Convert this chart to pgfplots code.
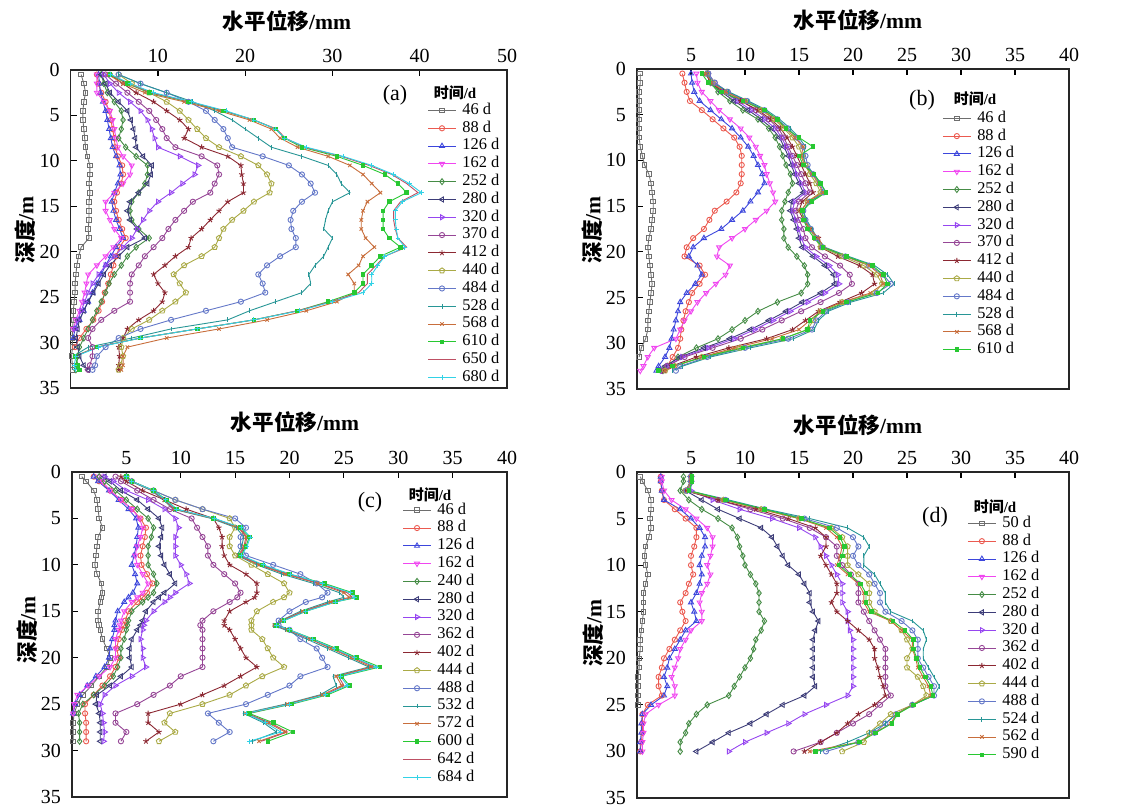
\documentclass[border=0pt]{standalone}
\usepackage{fontspec}
\setmainfont{Liberation Serif}
\newfontfamily\cjk{Noto Sans CJK SC}
\usepackage{pgfplots}
\usepackage{pgfplotstable}
\pgfplotsset{compat=1.18}

\definecolor{c1}{RGB}{110,110,110}
\definecolor{c2}{RGB}{235,90,80}
\definecolor{c3}{RGB}{60,70,220}
\definecolor{c4}{RGB}{240,70,240}
\definecolor{c5}{RGB}{70,140,70}
\definecolor{c6}{RGB}{60,60,120}
\definecolor{c7}{RGB}{150,70,240}
\definecolor{c8}{RGB}{150,70,150}
\definecolor{c9}{RGB}{140,40,50}
\definecolor{c10}{RGB}{170,170,70}
\definecolor{c11}{RGB}{100,120,200}
\definecolor{c12}{RGB}{40,150,150}
\definecolor{c13}{RGB}{200,110,60}
\definecolor{c14}{RGB}{40,200,50}
\definecolor{c15}{RGB}{190,80,100}
\definecolor{c16}{RGB}{50,210,230}

\pgfplotsset{
  s1/.style={color=c1, mark=square, mark size=1.15pt},
  s2/.style={color=c2, mark=o, mark size=1.3pt},
  s3/.style={color=c3, mark=triangle, mark size=1.45pt},
  s4/.style={color=c4, mark=triangle, mark size=1.45pt, mark options={rotate=180}},
  s5/.style={color=c5, mark=diamond, mark size=1.5pt},
  s6/.style={color=c6, mark=triangle, mark size=1.45pt, mark options={rotate=90}},
  s7/.style={color=c7, mark=triangle, mark size=1.45pt, mark options={rotate=-90}},
  s8/.style={color=c8, mark=o, mark size=1.3pt},
  s9/.style={color=c9, mark=star, mark size=1.4pt},
  s10/.style={color=c10, mark=pentagon, mark size=1.4pt},
  s11/.style={color=c11, mark=o, mark size=1.3pt},
  s12/.style={color=c12, mark=|, mark size=1.2pt},
  s13/.style={color=c13, mark=x, mark size=1.2pt},
  s14/.style={color=c14, mark=square*, mark size=0.9pt},
  s15/.style={color=c15, no marks},
  s16/.style={color=c16, mark=+, mark size=1.2pt},
  panel/.style={
    scale only axis, anchor=north west,
    y dir=reverse, xmin=0, ymin=0, ymax=35,
    enlargelimits=false, clip=false,
    tick align=inside, major tick length=3pt,
    xtick pos=right, xticklabel pos=right, ytick pos=left,
    ytick={0,5,...,35},
    every tick/.style={black, line width=0.6pt},
    axis line style={line width=0.7pt, black!85},
    tick label style={font=\fontsize{10}{12}\selectfont},
    yticklabel style={xshift=-2pt},
    /pgf/number format/assume math mode=true,
    legend cell align=left,
    legend image code/.code={\draw[mark repeat=2,mark phase=2,##1] plot coordinates {(0pt,0pt) (7pt,0pt) (14pt,0pt)};},
    legend style={draw=none, fill=none, anchor=north west, inner sep=0pt,
      row sep=0pt, column sep=2.5pt,
      font=\fontsize{8.2}{9}\selectfont,
      nodes={inner sep=0.5pt, text height=5.9pt, text depth=2pt}},
    every axis plot/.append style={line width=0.45pt},
  },
}

% panel (a): depth d, columns 46 88 126 162 252 280 320 370 412 440 484 528 568 610 650 680 d
\pgfplotstableread{
d v1 v2 v3 v4 v5 v6 v7 v8 v9 v10 v11 v12 v13 v14 v15 v16
0.5 1.2 3.0 3.2 3.0 3.5 3.5 3.8 4.0 4.5 5.5 5.5 5.5 4.3 4.5 4.6 4.6
1.5 1.5 3.2 3.3 3.0 3.8 4.0 4.5 5.2 6.0 7.0 8.0 8.0 6.0 6.5 6.6 6.8
2.5 1.7 3.5 3.4 3.0 4.2 4.5 5.5 6.5 7.5 9.0 11.0 11.0 8.5 9.0 9.2 9.5
3.5 1.5 4.0 3.7 3.8 5.0 5.5 6.8 7.8 9.5 11.0 13.5 14.0 13.0 13.5 13.6 13.8
4.5 1.4 4.4 4.0 4.5 5.8 6.5 8.0 9.0 11.0 12.5 15.5 16.5 17.0 17.5 17.6 17.8
5.5 1.4 4.6 4.2 4.8 6.0 6.9 8.8 9.8 12.5 13.5 16.5 18.5 20.5 21.0 21.0 21.0
6.5 1.5 4.8 4.4 5.0 5.8 7.2 9.3 10.5 13.5 14.5 17.5 20.0 23.0 23.5 23.6 23.5
7.5 1.6 5.0 4.6 5.2 5.5 7.4 9.6 11.0 13.0 15.5 18.0 21.5 24.0 24.5 24.6 24.5
8.5 1.7 5.1 4.8 5.4 6.3 7.5 10.0 12.0 15.0 17.0 18.5 23.0 26.0 26.5 26.8 27.0
9.5 1.9 5.4 5.2 6.0 7.5 8.3 12.5 15.0 18.0 19.5 22.0 26.5 29.5 30.5 31.0 31.2
10.5 2.2 5.9 5.6 7.0 8.8 9.3 14.6 16.8 19.5 21.5 25.0 29.5 32.0 33.5 34.2 34.5
11.5 2.2 6.0 5.7 6.8 8.8 9.2 14.2 17.0 19.6 22.5 26.5 30.5 33.5 36.0 36.8 37.0
12.5 2.1 5.8 5.4 6.0 8.5 8.8 12.8 16.5 19.8 23.0 27.5 31.0 34.5 37.5 38.5 38.8
13.5 2.2 5.3 5.0 5.0 7.8 7.8 11.5 16.0 19.8 22.8 28.0 32.0 35.5 38.5 39.8 40.2
14.5 2.1 5.0 4.7 4.0 7.0 6.8 10.0 14.0 18.0 21.0 26.5 30.0 34.0 36.5 37.8 38.0
15.5 2.1 5.2 4.9 4.0 6.8 6.5 9.0 13.0 17.0 19.8 25.5 29.5 33.5 35.8 37.0 37.2
16.5 2.1 5.5 5.2 4.5 7.0 6.8 8.3 12.0 16.0 18.5 25.2 29.2 33.3 35.8 37.0 37.2
17.5 2.0 5.9 5.6 5.0 7.8 7.6 7.6 11.2 15.0 17.5 25.3 29.0 33.3 35.8 37.2 37.3
18.5 2.1 6.3 6.0 5.8 9.0 8.5 7.0 10.5 13.8 17.0 25.8 30.0 33.8 36.5 37.5 37.5
19.5 1.2 5.6 5.2 4.9 7.5 6.5 6.0 9.5 13.5 16.5 25.8 29.5 34.8 37.8 38.5 38.3
20.5 0.9 5.2 4.6 4.0 6.5 5.5 5.0 8.5 12.0 15.0 24.0 29.0 33.5 35.5 36.0 36.0
21.5 0.7 4.9 4.0 3.0 5.8 4.5 4.0 7.8 10.8 13.0 22.5 28.0 33.0 34.5 35.0 35.2
22.5 0.6 4.6 3.5 2.0 5.0 3.8 3.2 7.0 9.5 11.8 21.5 27.3 31.8 33.5 34.0 34.5
23.5 0.5 4.3 3.0 1.8 4.4 3.2 2.5 6.8 10.0 12.5 22.0 27.5 32.5 33.5 34.0 34.5
24.5 0.5 3.9 2.5 1.6 4.0 2.6 2.0 6.8 10.8 13.2 22.3 26.5 32.5 32.5 33.0 33.5
25.5 0.4 3.6 2.0 1.3 3.5 2.0 1.6 6.8 10.5 12.0 19.5 23.5 30.5 29.5 29.8 30.0
26.5 0.3 3.2 1.5 1.0 3.0 1.5 1.2 5.0 9.5 10.5 15.5 20.5 27.0 26.0 26.0 26.2
27.5 0.3 2.6 1.0 0.6 2.5 1.0 0.8 3.5 7.8 9.0 11.5 18.0 22.5 21.0 21.0 21.0
28.5 0.2 1.8 0.5 0.3 2.0 0.8 0.5 2.5 6.5 7.0 8.0 11.5 17.0 14.5 14.5 14.5
29.5 0.2 1.0 0.3 nan 1.5 0.6 nan 2.0 6.0 6.0 5.5 7.0 11.0 8.0 8.0 8.0
30.5 0.2 0.5 nan nan 1.0 0.8 nan 2.5 5.5 5.8 4.0 2.0 6.5 3.0 3.0 3.2
31.5 0.1 nan nan nan 0.8 1.0 nan 2.5 5.6 6.0 3.0 0.3 6.0 0.5 0.5 0.6
32.5 0.2 nan nan nan 0.7 1.5 nan 2.2 5.5 5.7 2.8 nan 6.0 0.8 nan 0.4
33.0 0.2 nan nan nan 0.6 2.0 nan 2.0 5.5 5.5 2.5 nan 5.8 1.0 nan 0.5
}\tabA

% panel (b): 46 88 126 162 252 280 320 370 412 440 484 528 568 610 d
\pgfplotstableread{
d v1 v2 v3 v4 v5 v6 v7 v8 v9 v10 v11 v12 v13 v14
0.5 0.3 4.2 5.0 5.5 6.5 6.4 6.5 6.6 6.4 6.5 6.6 6.5 6.4 6.0
1.5 0.3 4.4 5.1 5.6 6.8 6.8 7.0 7.2 6.8 7.0 7.2 7.0 6.9 6.6
2.5 0.2 4.6 5.3 6.0 7.5 7.8 8.0 8.4 8.0 8.3 8.4 8.5 8.2 7.8
3.5 0.2 4.9 5.8 6.8 8.6 9.0 9.3 9.7 9.6 10.0 10.2 10.3 10.0 9.8
4.5 0.2 6.0 6.8 7.6 9.8 10.3 10.6 11.0 11.2 11.5 11.8 12.0 11.6 11.8
5.5 0.2 7.0 7.8 8.6 11.2 11.5 11.8 12.2 12.4 12.7 13.0 13.2 12.8 13.0
6.5 0.2 8.0 8.8 9.6 12.2 12.5 12.8 13.1 13.3 13.6 14.0 14.2 13.8 13.8
7.5 0.2 9.0 9.6 10.4 12.8 13.2 13.4 13.6 13.9 14.4 14.8 15.0 14.6 15.0
8.5 0.3 9.5 10.3 11.0 13.2 13.6 13.8 14.0 14.4 15.0 15.4 15.6 15.4 16.3
9.5 0.5 9.7 10.8 11.4 13.5 14.0 14.2 14.4 14.8 15.3 15.6 15.4 15.2 15.0
10.5 0.7 9.7 11.2 11.8 13.8 14.3 14.5 14.8 15.2 15.6 15.8 15.6 15.5 15.4
11.5 1.1 9.7 11.6 12.0 14.2 14.6 14.8 15.2 15.6 16.0 16.3 16.4 16.2 16.4
12.5 1.3 9.6 11.8 12.3 14.4 15.0 15.2 15.6 16.0 16.6 16.9 17.0 16.8 17.0
13.5 1.4 9.2 11.2 12.6 14.0 15.4 15.6 16.0 16.3 17.0 17.3 17.5 17.2 17.5
14.5 1.5 8.3 10.5 12.8 13.7 14.3 14.6 15.0 15.3 15.8 16.0 16.0 15.8 16.2
15.5 1.5 7.2 9.8 12.0 13.4 14.2 14.4 14.7 15.0 15.2 15.4 15.4 15.2 15.3
16.5 1.4 6.7 8.8 11.0 13.4 14.5 14.7 15.0 15.4 15.5 15.6 15.7 15.5 15.4
17.5 1.3 6.2 7.8 10.0 13.6 14.8 15.0 15.4 16.0 16.0 16.1 16.2 16.0 15.8
18.5 1.1 5.2 6.2 8.8 13.6 15.0 15.2 15.6 16.8 16.5 16.6 16.7 16.8 16.4
19.5 1.0 4.6 5.2 7.6 14.0 15.3 15.6 16.2 17.0 17.0 17.2 17.4 17.3 17.2
20.5 1.1 4.4 4.8 7.4 14.8 16.3 16.6 17.4 18.6 19.0 19.3 19.6 19.3 19.4
21.5 1.2 5.8 5.6 8.6 15.5 17.4 17.8 18.8 20.6 21.0 21.5 22.0 21.5 21.8
22.5 1.3 6.3 6.0 8.2 15.8 18.2 18.6 19.7 21.8 22.2 22.8 23.2 22.5 22.8
23.5 1.4 5.8 5.4 7.3 15.8 18.3 18.7 19.9 22.0 22.7 23.5 23.8 22.8 23.2
24.5 1.3 5.1 4.6 6.4 15.2 17.0 17.4 18.7 20.8 22.0 22.2 22.8 21.6 22.3
25.5 1.2 4.8 4.0 5.6 13.0 15.3 15.8 17.0 18.8 19.0 19.5 19.8 19.0 19.4
26.5 1.1 4.5 3.8 5.0 11.2 13.8 14.2 15.2 16.8 17.0 17.5 17.7 17.0 17.2
27.5 1.0 4.3 3.6 4.4 10.0 12.2 12.6 13.4 15.6 16.3 16.6 16.8 16.0 16.0
28.5 1.0 4.1 3.4 4.0 8.8 10.5 10.9 11.6 14.4 15.8 16.2 16.4 15.0 15.8
29.5 0.8 4.0 3.2 3.6 7.5 8.6 9.0 9.6 12.0 13.5 14.0 14.5 12.5 13.5
30.5 0.4 3.8 3.0 1.6 5.5 6.2 6.6 7.0 8.5 9.5 10.0 10.5 9.0 9.8
31.5 0.2 3.3 2.6 1.0 3.8 4.0 4.2 4.4 5.5 6.0 6.5 6.8 6.0 6.2
32.5 nan 2.8 2.0 0.6 2.8 2.6 2.8 2.8 3.2 3.5 4.0 4.2 3.5 3.3
33.0 nan nan 1.8 0.3 2.4 2.2 2.3 2.3 2.5 2.6 3.6 3.3 2.6 2.0
}\tabB

% panel (c): 46 88 126 162 240 280 320 362 402 444 488 532 572 600 642 684 d
\pgfplotstableread{
d v1 v2 v3 v4 v5 v6 v7 v8 v9 v10 v11 v12 v13 v14 v15 v16
0.5 0.9 2.0 2.0 2.5 2.5 3.0 3.0 4.0 4.5 5.0 5.0 5.0 5.0 5.0 5.0 5.0
1 1.3 2.5 2.4 2.8 3.0 3.5 3.8 4.5 5.0 5.5 5.5 5.4 5.5 5.5 5.5 5.5
2 2.0 3.5 3.4 3.5 4.0 4.5 5.0 6.0 6.5 7.5 7.5 7.3 7.4 7.5 7.4 7.5
3 2.3 4.5 4.3 4.5 5.0 6.0 7.0 7.5 8.5 9.5 9.5 8.4 8.5 8.7 8.5 8.6
4 2.4 5.5 5.2 5.5 6.0 7.0 8.5 9.0 10.5 12.0 12.0 9.3 9.4 9.6 9.5 9.6
5 2.5 6.3 5.9 6.2 7.0 8.0 9.5 11.0 13.0 14.5 15.0 12.8 13.0 13.0 13.0 13.1
6 2.8 6.8 6.1 6.5 7.5 8.3 9.8 11.5 13.5 15.0 16.0 15.1 15.3 15.5 15.4 15.6
7 2.4 6.7 6.0 6.3 7.3 8.2 9.5 12.0 13.8 14.5 15.5 15.8 16.0 16.3 16.1 16.4
8 2.3 6.5 5.9 6.0 7.0 8.0 9.5 12.5 13.8 14.5 15.5 15.6 15.8 16.0 15.9 16.1
9 2.2 6.3 5.7 5.8 7.0 8.2 9.5 12.5 14.0 15.0 16.0 15.2 15.3 15.5 15.4 15.6
10 2.1 6.4 5.5 6.0 7.0 8.5 10.0 13.0 14.5 16.5 18.5 17.0 17.2 17.5 17.3 17.6
11 2.3 6.9 5.8 6.5 7.5 9.0 10.5 14.0 16.0 18.0 21.0 19.3 19.6 20.0 19.8 20.1
12 2.7 7.4 6.0 7.0 7.8 9.5 10.8 15.0 17.0 19.5 22.5 22.2 22.6 23.2 22.8 23.0
13 2.8 6.9 5.6 6.5 7.5 8.5 9.5 15.5 17.0 20.0 23.5 24.6 25.0 25.8 25.3 25.6
13.5 2.7 6.5 5.2 6.0 7.0 8.0 9.0 15.2 16.8 19.5 23.0 25.0 25.5 26.2 25.8 26.0
14 2.6 6.0 4.8 5.5 6.5 7.5 8.5 14.5 16.0 18.5 21.5 23.5 23.8 24.2 24.0 24.2
15 2.4 5.2 4.2 4.8 5.5 6.8 7.5 13.0 14.5 17.0 20.0 21.0 21.2 21.5 21.3 21.5
16 2.4 4.9 4.0 4.5 5.2 6.5 6.8 12.0 14.0 16.5 19.0 19.2 19.3 19.5 19.4 19.5
16.5 2.5 4.8 3.9 4.4 5.1 6.3 6.6 11.8 14.0 16.5 19.0 18.5 18.6 18.8 18.7 18.8
17 2.6 4.6 3.9 4.3 5.0 6.0 6.5 12.0 14.5 16.5 20.0 19.6 19.8 20.0 19.9 20.0
18 2.8 4.3 3.7 4.0 4.8 5.5 6.3 12.0 15.0 17.5 21.0 21.6 21.9 22.2 22.0 22.1
19 3.2 4.1 3.5 4.0 4.5 5.3 6.5 12.0 15.5 18.0 22.5 23.5 23.8 24.3 24.0 24.1
20 3.5 4.3 3.4 4.0 4.5 5.3 6.5 12.0 16.0 18.5 23.0 25.4 25.7 26.2 25.9 26.0
21 3.2 4.0 3.0 3.5 4.2 5.5 6.8 12.0 17.0 19.5 23.5 27.3 27.5 28.3 27.8 28.0
22 2.5 3.5 2.2 2.5 3.8 4.5 5.5 10.0 15.5 17.5 21.0 24.0 24.3 24.8 24.5 24.7
23 1.8 2.8 1.4 1.5 3.0 3.5 4.0 9.0 14.0 16.0 20.0 24.3 24.8 25.5 25.0 25.3
24 1.0 2.0 0.7 0.5 2.0 2.3 3.0 7.5 12.0 14.5 18.0 22.8 23.0 23.5 23.2 23.3
25 0.5 1.2 0.3 0.2 1.0 2.2 2.6 6.0 10.0 12.0 16.0 19.6 19.8 20.2 20.0 20.0
26 0.2 1.2 0.1 0.1 0.6 2.5 2.8 4.0 7.0 9.0 12.5 15.8 16.0 16.3 16.1 16.0
27 0.1 1.3 nan nan 0.7 2.6 2.9 4.0 7.0 8.5 13.5 17.6 18.0 18.5 18.2 17.8
28 0.1 1.3 nan nan 0.7 2.6 3.0 5.0 8.0 9.5 14.5 18.8 19.6 20.3 19.8 19.2
29 0.1 1.3 nan nan 0.7 2.6 2.9 4.5 6.8 8.0 13.0 16.6 17.2 18.0 17.4 16.3
}\tabC

% panel (d): 50 88 126 162 252 280 320 362 402 444 488 524 562 590 d
\pgfplotstableread{
d v1 v2 v3 v4 v5 v6 v7 v8 v9 v10 v11 v12 v13 v14
0.5 0.3 2.2 2.2 2.3 4.3 5.0 5.0 5.0 5.0 5.0 5.0 5.2 5.0 5.1
1 0.5 2.2 2.2 2.3 4.3 5.0 5.0 5.0 5.0 5.0 5.0 5.2 5.0 5.1
2 1.0 2.3 2.3 2.5 4.0 4.5 5.0 4.5 4.5 4.5 4.6 4.8 4.7 4.8
3 1.3 2.5 2.5 3.2 4.8 6.0 7.0 7.5 7.5 8.0 8.2 8.5 8.0 8.2
4 1.3 3.5 4.0 4.5 6.0 7.5 9.5 10.5 11.0 11.5 11.8 12.0 11.5 11.8
5 1.2 4.5 5.0 5.5 7.5 9.5 12.5 13.5 14.0 15.0 15.5 16.0 15.0 15.2
6 1.3 5.5 5.8 6.5 8.8 11.5 15.0 16.0 16.5 18.0 18.5 19.5 17.5 17.8
7 1.1 5.5 6.3 7.0 9.3 12.5 16.5 17.5 17.5 19.0 20.0 21.0 18.5 18.8
8 0.8 5.3 6.3 7.0 9.5 13.0 17.0 18.5 17.5 19.5 20.5 21.5 19.0 19.2
9 0.7 5.0 6.0 6.8 9.8 13.5 17.5 18.5 17.0 19.5 20.0 21.0 18.8 19.0
10 0.8 5.0 5.8 6.5 10.0 14.0 18.0 19.0 17.5 19.5 20.5 21.0 18.5 18.7
11 1.0 5.2 6.0 6.8 10.5 15.0 18.5 19.8 18.0 20.5 21.5 22.0 19.5 19.7
12 0.8 4.8 5.8 6.5 11.0 15.5 19.0 20.5 18.5 21.5 22.0 22.5 20.5 20.7
13 0.6 4.5 5.5 6.0 11.3 16.0 19.0 20.5 18.5 21.5 22.5 23.0 21.0 21.2
14 0.6 4.0 5.0 5.8 11.3 16.0 19.0 20.5 18.0 21.5 22.5 23.0 21.0 21.2
15 0.6 4.2 5.3 6.0 11.3 16.3 19.5 21.0 18.5 22.0 23.0 23.5 21.5 21.7
16 0.5 4.5 5.5 6.0 11.8 16.8 19.5 21.5 19.5 23.5 24.5 25.5 23.5 23.7
17 0.4 4.0 4.5 5.0 11.5 16.5 19.7 22.0 20.5 24.5 25.5 26.5 24.5 24.8
18 0.3 3.5 4.0 4.5 11.0 16.3 20.0 22.5 21.5 25.0 26.0 26.8 25.5 25.6
19 0.3 3.0 3.5 4.0 10.8 16.3 20.0 23.0 22.0 25.5 26.0 26.5 25.5 25.6
20 0.2 2.5 3.0 3.8 10.5 16.3 20.0 23.0 22.0 25.0 26.0 26.5 25.8 25.9
21 0.2 2.3 2.8 3.5 10.0 16.3 20.0 23.0 22.3 25.0 26.5 27.0 26.0 26.2
22 0.1 2.0 2.5 3.2 9.5 16.3 20.0 23.0 22.5 26.0 27.0 27.5 26.5 26.7
23 0.1 2.0 2.8 3.5 9.0 16.5 20.0 23.0 22.8 26.5 27.5 28.0 27.0 27.2
24 0.1 2.3 2.5 3.5 8.5 15.5 19.5 23.5 23.0 26.8 27.5 27.5 27.2 27.4
25 0.1 1.0 1.3 2.0 6.5 13.5 17.5 22.5 22.0 25.5 25.5 25.5 25.5 25.6
26 nan 0.5 0.5 0.8 5.5 12.0 15.5 21.5 20.5 23.5 24.0 24.0 24.0 24.1
27 nan 0.5 0.4 0.6 4.8 10.5 14.0 20.0 19.5 22.5 23.0 23.0 23.5 23.6
28 nan 0.5 0.4 0.6 4.5 8.5 12.0 18.5 18.5 21.5 22.0 21.5 22.0 22.1
29 nan 0.4 0.3 0.5 4.0 7.0 10.0 17.0 17.0 21.0 20.5 19.5 20.5 20.6
30 nan 0.3 0.3 0.5 4.0 5.5 8.5 14.5 15.5 19.0 17.5 17.0 16.0 16.5
}\tabD

\begin{document}
\begin{tikzpicture}
\useasboundingbox (0,0) rectangle (562pt,-403.5pt);

% (a)
\begin{axis}[panel, at={(35.35pt,-35pt)}, width=218.15pt, height=159pt,
  xmax=50, xtick={10,20,30,40,50},
  legend style={at={(axis description cs:0.817,0.902)}}]
\addplot[s1] table[x=v1,y=d]{\tabA}; \addlegendentry{46 d}
\addplot[s2] table[x=v2,y=d]{\tabA}; \addlegendentry{88 d}
\addplot[s3] table[x=v3,y=d]{\tabA}; \addlegendentry{126 d}
\addplot[s4] table[x=v4,y=d]{\tabA}; \addlegendentry{162 d}
\addplot[s5] table[x=v5,y=d]{\tabA}; \addlegendentry{252 d}
\addplot[s6] table[x=v6,y=d]{\tabA}; \addlegendentry{280 d}
\addplot[s7] table[x=v7,y=d]{\tabA}; \addlegendentry{320 d}
\addplot[s8] table[x=v8,y=d]{\tabA}; \addlegendentry{370 d}
\addplot[s9] table[x=v9,y=d]{\tabA}; \addlegendentry{412 d}
\addplot[s10] table[x=v10,y=d]{\tabA}; \addlegendentry{440 d}
\addplot[s11] table[x=v11,y=d]{\tabA}; \addlegendentry{484 d}
\addplot[s12] table[x=v12,y=d]{\tabA}; \addlegendentry{528 d}
\addplot[s13] table[x=v13,y=d]{\tabA}; \addlegendentry{568 d}
\addplot[s14] table[x=v14,y=d]{\tabA}; \addlegendentry{610 d}
\addplot[s15] table[x=v15,y=d]{\tabA}; \addlegendentry{650 d}
\addplot[s16] table[x=v16,y=d]{\tabA}; \addlegendentry{680 d}
\end{axis}

% (b)
\begin{axis}[panel, at={(318.5pt,-34.5pt)}, width=216pt, height=160pt,
  xmax=40, xtick={5,10,...,40},
  legend style={at={(axis description cs:0.706,0.875)}}]
\addplot[s1] table[x=v1,y=d]{\tabB}; \addlegendentry{46 d}
\addplot[s2] table[x=v2,y=d]{\tabB}; \addlegendentry{88 d}
\addplot[s3] table[x=v3,y=d]{\tabB}; \addlegendentry{126 d}
\addplot[s4] table[x=v4,y=d]{\tabB}; \addlegendentry{162 d}
\addplot[s5] table[x=v5,y=d]{\tabB}; \addlegendentry{252 d}
\addplot[s6] table[x=v6,y=d]{\tabB}; \addlegendentry{280 d}
\addplot[s7] table[x=v7,y=d]{\tabB}; \addlegendentry{320 d}
\addplot[s8] table[x=v8,y=d]{\tabB}; \addlegendentry{370 d}
\addplot[s9] table[x=v9,y=d]{\tabB}; \addlegendentry{412 d}
\addplot[s10] table[x=v10,y=d]{\tabB}; \addlegendentry{440 d}
\addplot[s11] table[x=v11,y=d]{\tabB}; \addlegendentry{484 d}
\addplot[s12] table[x=v12,y=d]{\tabB}; \addlegendentry{528 d}
\addplot[s13] table[x=v13,y=d]{\tabB}; \addlegendentry{568 d}
\addplot[s14] table[x=v14,y=d]{\tabB}; \addlegendentry{610 d}
\end{axis}

% (c)
\begin{axis}[panel, at={(36pt,-236pt)}, width=217.5pt, height=162.5pt,
  xmax=40, xtick={5,10,...,40},
  legend style={at={(axis description cs:0.759,0.911)}}]
\addplot[s1] table[x=v1,y=d]{\tabC}; \addlegendentry{46 d}
\addplot[s2] table[x=v2,y=d]{\tabC}; \addlegendentry{88 d}
\addplot[s3] table[x=v3,y=d]{\tabC}; \addlegendentry{126 d}
\addplot[s4] table[x=v4,y=d]{\tabC}; \addlegendentry{162 d}
\addplot[s5] table[x=v5,y=d]{\tabC}; \addlegendentry{240 d}
\addplot[s6] table[x=v6,y=d]{\tabC}; \addlegendentry{280 d}
\addplot[s7] table[x=v7,y=d]{\tabC}; \addlegendentry{320 d}
\addplot[s8] table[x=v8,y=d]{\tabC}; \addlegendentry{362 d}
\addplot[s9] table[x=v9,y=d]{\tabC}; \addlegendentry{402 d}
\addplot[s10] table[x=v10,y=d]{\tabC}; \addlegendentry{444 d}
\addplot[s11] table[x=v11,y=d]{\tabC}; \addlegendentry{488 d}
\addplot[s12] table[x=v12,y=d]{\tabC}; \addlegendentry{532 d}
\addplot[s13] table[x=v13,y=d]{\tabC}; \addlegendentry{572 d}
\addplot[s14] table[x=v14,y=d]{\tabC}; \addlegendentry{600 d}
\addplot[s15] table[x=v15,y=d]{\tabC}; \addlegendentry{642 d}
\addplot[s16] table[x=v16,y=d]{\tabC}; \addlegendentry{684 d}
\end{axis}

% (d)
\begin{axis}[panel, at={(318.5pt,-236pt)}, width=216pt, height=163pt,
  xmax=40, xtick={5,10,...,40},
  legend style={at={(axis description cs:0.764,0.871)}}]
\addplot[s1] table[x=v1,y=d]{\tabD}; \addlegendentry{50 d}
\addplot[s2] table[x=v2,y=d]{\tabD}; \addlegendentry{88 d}
\addplot[s3] table[x=v3,y=d]{\tabD}; \addlegendentry{126 d}
\addplot[s4] table[x=v4,y=d]{\tabD}; \addlegendentry{162 d}
\addplot[s5] table[x=v5,y=d]{\tabD}; \addlegendentry{252 d}
\addplot[s6] table[x=v6,y=d]{\tabD}; \addlegendentry{280 d}
\addplot[s7] table[x=v7,y=d]{\tabD}; \addlegendentry{320 d}
\addplot[s8] table[x=v8,y=d]{\tabD}; \addlegendentry{362 d}
\addplot[s9] table[x=v9,y=d]{\tabD}; \addlegendentry{402 d}
\addplot[s10] table[x=v10,y=d]{\tabD}; \addlegendentry{444 d}
\addplot[s11] table[x=v11,y=d]{\tabD}; \addlegendentry{488 d}
\addplot[s12] table[x=v12,y=d]{\tabD}; \addlegendentry{524 d}
\addplot[s13] table[x=v13,y=d]{\tabD}; \addlegendentry{562 d}
\addplot[s14] table[x=v14,y=d]{\tabD}; \addlegendentry{590 d}
\end{axis}

% axis titles, panel tags and legend titles
\begin{scope}[every node/.style={font=\fontsize{10.8}{13}\selectfont\bfseries}]
\node at (143.5pt,-10.5pt) {{\cjk 水平位移}/mm};
\node at (429pt,-10pt) {{\cjk 水平位移}/mm};
\node at (147.5pt,-211pt) {{\cjk 水平位移}/mm};
\node at (429pt,-212.5pt) {{\cjk 水平位移}/mm};
\node[rotate=90] at (12.5pt,-115pt) {{\cjk 深度}/m};
\node[rotate=90] at (296pt,-115pt) {{\cjk 深度}/m};
\node[rotate=90] at (13.5pt,-315pt) {{\cjk 深度}/m};
\node[rotate=90] at (296.5pt,-316.5pt) {{\cjk 深度}/m};
\end{scope}
\begin{scope}[every node/.style={font=\fontsize{11}{13}\selectfont}]
\node at (197.5pt,-47.5pt) {(a)};
\node at (461pt,-50pt) {(b)};
\node at (185pt,-251pt) {(c)};
\node at (467.5pt,-258.5pt) {(d)};
\end{scope}
\begin{scope}[every node/.style={font=\fontsize{7.5}{9}\selectfont\bfseries}]
\node at (227.5pt,-46.5pt) {{\cjk 时间}/d};
\node at (487.5pt,-49.5pt) {{\cjk 时间}/d};
\node at (215pt,-247.5pt) {{\cjk 时间}/d};
\node at (497.5pt,-253.5pt) {{\cjk 时间}/d};
\end{scope}
\end{tikzpicture}
\end{document}
